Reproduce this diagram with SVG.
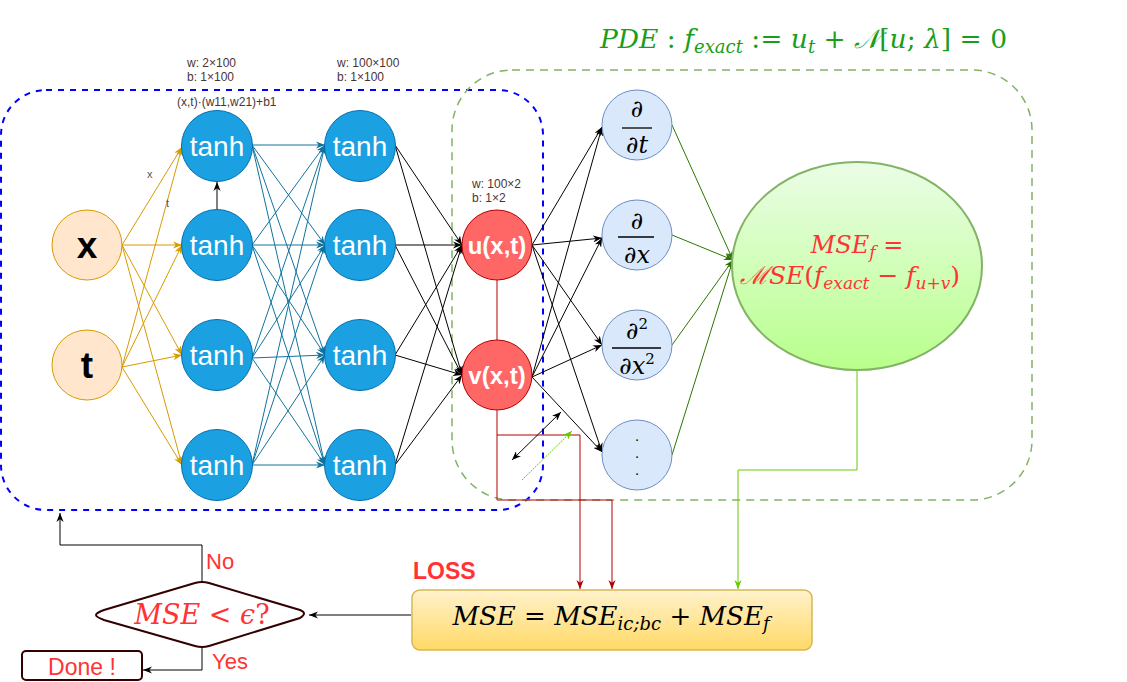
<svg xmlns="http://www.w3.org/2000/svg" width="1127" height="682" viewBox="0 0 1127 682">
<style>
.ln{fill:none;stroke-width:1}
.or{stroke:#d79b00}
.bl{stroke:#10739e}
.bk{stroke:#000000}
.dg{stroke:#2d7600}
.dr{stroke:#b20000}
.lg{stroke:#66cc00}
.tanh circle{fill:#1ba1e2;stroke:#006eaf;stroke-width:1}
.tanh text{fill:#ffffff;font-family:"Liberation Sans",Arial,sans-serif;font-size:28px;text-anchor:middle}
.inp circle{fill:#ffe6cc;stroke:#d79b00;stroke-width:1}
.inp text{fill:#000;font-family:"Liberation Sans",Arial,sans-serif;font-size:37px;font-weight:bold;text-anchor:middle}
.outn circle{fill:#ff6666;stroke:#b20000;stroke-width:1}
.outn text{fill:#fff;font-family:"Liberation Sans",Arial,sans-serif;font-size:24px;font-weight:bold;text-anchor:middle}
.der circle{fill:#dae8fc;stroke:#6c8ebf;stroke-width:1}
.math{font-family:"DejaVu Serif","Liberation Serif",serif}
.it{font-style:italic}
.ann{fill:#4d3333;font-family:"Liberation Sans",Arial,sans-serif;font-size:12px}
.lbl{font-family:"Liberation Sans",Arial,sans-serif}
</style>
<defs>
<marker id="aOr" viewBox="0 0 10 8" refX="10" refY="4" markerWidth="9" markerHeight="7.2" markerUnits="userSpaceOnUse" orient="auto"><path d="M0,0 L10,4 L0,8 L3,4 z" fill="#d79b00"/></marker>
<marker id="aBl" viewBox="0 0 10 8" refX="10" refY="4" markerWidth="9" markerHeight="7.2" markerUnits="userSpaceOnUse" orient="auto"><path d="M0,0 L10,4 L0,8 L3,4 z" fill="#10739e"/></marker>
<marker id="aBk" viewBox="0 0 10 8" refX="10" refY="4" markerWidth="9" markerHeight="7.2" markerUnits="userSpaceOnUse" orient="auto-start-reverse"><path d="M0,0 L10,4 L0,8 L3,4 z" fill="#000"/></marker>
<marker id="aDg" viewBox="0 0 10 8" refX="10" refY="4" markerWidth="9" markerHeight="7.2" markerUnits="userSpaceOnUse" orient="auto"><path d="M0,0 L10,4 L0,8 L3,4 z" fill="#2d7600"/></marker>
<marker id="aDr" viewBox="0 0 10 8" refX="10" refY="4" markerWidth="9" markerHeight="7.2" markerUnits="userSpaceOnUse" orient="auto"><path d="M0,0 L10,4 L0,8 L3,4 z" fill="#b20000"/></marker>
<marker id="aLg" viewBox="0 0 10 8" refX="10" refY="4" markerWidth="9" markerHeight="7.2" markerUnits="userSpaceOnUse" orient="auto"><path d="M0,0 L10,4 L0,8 L3,4 z" fill="#66cc00"/></marker>
<linearGradient id="gF" x1="0" y1="0" x2="0" y2="1"><stop offset="0" stop-color="#ebfde6"/><stop offset="1" stop-color="#b8ff8c"/></linearGradient>
<linearGradient id="gL" x1="0" y1="0" x2="0" y2="1"><stop offset="0" stop-color="#fff2cc"/><stop offset="1" stop-color="#ffd966"/></linearGradient>
</defs>
<rect width="1127" height="682" fill="#ffffff"/>

<g id="boxes">
<rect id="nnbox" x="1" y="90" width="542" height="420" rx="45" ry="45" fill="none" stroke="#0000ff" stroke-width="2" stroke-dasharray="6,6"/>
<rect id="pdebox" x="452" y="70" width="580" height="430" rx="60" ry="60" fill="none" stroke="#82b366" stroke-width="1.5" stroke-dasharray="8,6"/>
</g>

<g id="connectors">
<g class="ln or" marker-end="url(#aOr)">
<line x1="122" y1="245" x2="182" y2="147"/>
<line x1="122" y1="245" x2="182" y2="245"/>
<line x1="122" y1="245" x2="182" y2="355"/>
<line x1="122" y1="245" x2="182" y2="465"/>
<line x1="122" y1="367" x2="182" y2="147"/>
<line x1="122" y1="367" x2="182" y2="245"/>
<line x1="122" y1="367" x2="182" y2="355"/>
<line x1="122" y1="367" x2="182" y2="465"/>
</g>
<line class="ln bk" x1="217" y1="210" x2="217" y2="182" marker-end="url(#aBk)"/>
<g class="ln bl" marker-end="url(#aBl)">
<line x1="252" y1="145" x2="325" y2="145"/>
<line x1="252" y1="145" x2="325" y2="245"/>
<line x1="252" y1="145" x2="325" y2="355"/>
<line x1="252" y1="145" x2="325" y2="465"/>
<line x1="252" y1="245" x2="325" y2="145"/>
<line x1="252" y1="245" x2="325" y2="245"/>
<line x1="252" y1="245" x2="325" y2="355"/>
<line x1="252" y1="245" x2="325" y2="465"/>
<line x1="252" y1="358" x2="325" y2="145"/>
<line x1="252" y1="358" x2="325" y2="245"/>
<line x1="252" y1="358" x2="325" y2="355"/>
<line x1="252" y1="358" x2="325" y2="465"/>
<line x1="252" y1="465" x2="325" y2="145"/>
<line x1="252" y1="465" x2="325" y2="245"/>
<line x1="252" y1="465" x2="325" y2="355"/>
<line x1="252" y1="465" x2="325" y2="465"/>
</g>
<g class="ln bk" marker-end="url(#aBk)">
<line x1="395" y1="145" x2="462" y2="245"/>
<line x1="395" y1="145" x2="462" y2="375"/>
<line x1="395" y1="245" x2="462" y2="245"/>
<line x1="395" y1="245" x2="462" y2="375"/>
<line x1="395" y1="355" x2="462" y2="245"/>
<line x1="395" y1="355" x2="462" y2="375"/>
<line x1="395" y1="465" x2="462" y2="245"/>
<line x1="395" y1="465" x2="462" y2="375"/>
</g>
<g class="ln bk" marker-end="url(#aBk)">
<line x1="532" y1="245" x2="602" y2="127"/>
<line x1="532" y1="245" x2="602" y2="238"/>
<line x1="532" y1="245" x2="602" y2="345"/>
<line x1="532" y1="245" x2="602" y2="452"/>
<line x1="532" y1="377" x2="602" y2="127"/>
<line x1="532" y1="377" x2="602" y2="238"/>
<line x1="532" y1="377" x2="602" y2="345"/>
<line x1="532" y1="377" x2="602" y2="452"/>
</g>
<g class="ln dg" marker-end="url(#aDg)">
<line x1="672" y1="125" x2="733" y2="260"/>
<line x1="672" y1="235" x2="733" y2="260"/>
<line x1="672" y1="345" x2="733" y2="260"/>
<line x1="672" y1="455" x2="733" y2="260"/>
</g>
<line class="ln dr" x1="497" y1="280" x2="497" y2="340"/>
<polyline class="ln dr" points="497,410 497,435 580,435 580,589" marker-end="url(#aDr)"/>
<polyline class="ln dr" points="497,435 497,500 612,500 612,589" marker-end="url(#aDr)"/>
<polyline class="ln lg" points="857,370 857,470 738,470 738,589" marker-end="url(#aLg)"/>
<line class="ln bk" x1="512" y1="460" x2="561" y2="412" marker-start="url(#aBk)" marker-end="url(#aBk)"/>
<line class="ln lg" x1="522" y1="480" x2="572" y2="431" stroke-dasharray="2,1" marker-end="url(#aLg)"/>
<line class="ln bk" x1="411" y1="615" x2="309" y2="615" marker-end="url(#aBk)"/>
<polyline class="ln bk" points="202,582 202,545 60,545 60,513" marker-end="url(#aBk)"/>
<polyline class="ln bk" points="202,648 202,670 143,670" marker-end="url(#aBk)"/>
</g>

<g id="labels">
<text class="ann" x="187" y="67">w: 2×100</text>
<text class="ann" x="187" y="81">b: 1×100</text>
<text class="ann" x="177" y="106">(x,t)·(w11,w21)+b1</text>
<text class="ann" x="337" y="67">w: 100×100</text>
<text class="ann" x="337" y="81">b: 1×100</text>
<text class="ann" x="472" y="188">w: 100×2</text>
<text class="ann" x="472" y="202">b: 1×2</text>
<text x="147" y="178" font-family="Liberation Sans,Arial,sans-serif" font-size="11" fill="#555">x</text>
<text x="166" y="207" font-family="Liberation Sans,Arial,sans-serif" font-size="11" fill="#555">t</text>
<text class="math" x="600" y="48" font-size="26.5" fill="#1a9e1a"><tspan class="it">PDE</tspan> : <tspan class="it">f</tspan><tspan class="it" font-size="18" dy="5">exact</tspan><tspan dy="-5"> := </tspan><tspan class="it">u</tspan><tspan class="it" font-size="18" dy="5">t</tspan><tspan dy="-5"> + </tspan><tspan class="it">𝒩</tspan>[<tspan class="it">u</tspan>; <tspan class="it">λ</tspan>] = 0</text>
<text class="lbl" x="413" y="579" font-size="23" font-weight="bold" fill="#ff3333">LOSS</text>
<text class="lbl" x="206" y="569" font-size="22" fill="#ff3333">No</text>
<text class="lbl" x="212" y="669" font-size="22" fill="#ff3333">Yes</text>
</g>

<g id="input-x" class="inp"><circle cx="87" cy="245" r="35"/><text x="87" y="258">x</text></g>
<g id="input-t" class="inp"><circle cx="87" cy="365" r="35"/><text x="87" y="378">t</text></g>

<g id="h1-1" class="tanh"><circle cx="217" cy="146" r="35.5"/><text x="217" y="156">tanh</text></g>
<g id="h1-2" class="tanh"><circle cx="217" cy="245" r="35.5"/><text x="217" y="255">tanh</text></g>
<g id="h1-3" class="tanh"><circle cx="217" cy="355" r="35.5"/><text x="217" y="365">tanh</text></g>
<g id="h1-4" class="tanh"><circle cx="217" cy="465" r="35.5"/><text x="217" y="475">tanh</text></g>
<g id="h2-1" class="tanh"><circle cx="360" cy="146" r="35.5"/><text x="360" y="156">tanh</text></g>
<g id="h2-2" class="tanh"><circle cx="360" cy="245" r="35.5"/><text x="360" y="255">tanh</text></g>
<g id="h2-3" class="tanh"><circle cx="360" cy="355" r="35.5"/><text x="360" y="365">tanh</text></g>
<g id="h2-4" class="tanh"><circle cx="360" cy="465" r="35.5"/><text x="360" y="475">tanh</text></g>

<g id="out-u" class="outn"><circle cx="497" cy="245" r="35"/><text x="497" y="254">u(x,t)</text></g>
<g id="out-v" class="outn"><circle cx="497" cy="375" r="35"/><text x="497" y="384">v(x,t)</text></g>

<g id="d-t" class="der"><circle cx="637" cy="125" r="35"/>
<text class="math" x="637" y="117" font-size="24" text-anchor="middle">∂</text>
<line x1="622" y1="128" x2="652" y2="128" stroke="#000" stroke-width="1.3"/>
<text class="math" x="637" y="153" font-size="24" text-anchor="middle">∂<tspan class="it">t</tspan></text></g>
<g id="d-x" class="der"><circle cx="637" cy="235" r="35"/>
<text class="math" x="637" y="229" font-size="24" text-anchor="middle">∂</text>
<line x1="618" y1="237" x2="654" y2="237" stroke="#000" stroke-width="1.3"/>
<text class="math" x="637" y="263" font-size="24" text-anchor="middle">∂<tspan class="it">x</tspan></text></g>
<g id="d-xx" class="der"><circle cx="637" cy="345" r="35"/>
<text class="math" x="637" y="339" font-size="24" text-anchor="middle">∂<tspan font-size="15" dy="-10">2</tspan></text>
<line x1="612" y1="348" x2="661" y2="348" stroke="#000" stroke-width="1.3"/>
<text class="math" x="637" y="374" font-size="24" text-anchor="middle">∂<tspan class="it">x</tspan><tspan font-size="15" dy="-10">2</tspan></text></g>
<g id="d-more" class="der"><circle cx="637" cy="455" r="35"/>
<text class="math" font-size="13" text-anchor="middle"><tspan x="637" y="441">.</tspan><tspan x="637" y="458">.</tspan><tspan x="637" y="475">.</tspan></text></g>

<g id="mse-f"><ellipse cx="857" cy="266" rx="125" ry="104" fill="url(#gF)" stroke="#82b366" stroke-width="2"/>
<text class="math" x="857" y="253" font-size="24" fill="#ff3333" text-anchor="middle"><tspan class="it">MSE</tspan><tspan class="it" font-size="17" dy="5">f</tspan><tspan dy="-5"> =</tspan></text>
<text class="math" x="850" y="284" font-size="25" fill="#ff3333" text-anchor="middle"><tspan class="it">ℳSE</tspan>(<tspan class="it">f</tspan><tspan class="it" font-size="17" dy="5">exact</tspan><tspan dy="-5"> − </tspan><tspan class="it">f</tspan><tspan class="it" font-size="17" dy="5">u+v</tspan><tspan dy="-5">)</tspan></text></g>

<g id="loss"><rect x="412" y="590" width="400" height="60" rx="8" ry="8" fill="url(#gL)" stroke="#d6b656" stroke-width="1.5"/>
<text class="math" x="611" y="625" font-size="26" text-anchor="middle"><tspan class="it">MSE</tspan> = <tspan class="it">MSE</tspan><tspan class="it" font-size="18" dy="5">ic;bc</tspan><tspan dy="-5"> + </tspan><tspan class="it">MSE</tspan><tspan class="it" font-size="18" dy="5">f</tspan></text></g>

<g id="decision"><path d="M96,615 Q96,613 104,610 L195,583 Q202,581 209,583 L300,610 Q308,613 300,618 L209,646 Q202,648 195,646 L104,620 Q96,617 96,615 z" fill="#ffffff" stroke="#330000" stroke-width="2"/>
<text class="math" x="202" y="624" font-size="27" fill="#ff3333" text-anchor="middle"><tspan class="it">MSE</tspan> &lt; <tspan class="it">ϵ</tspan>?</text></g>

<g id="done"><rect x="22" y="651" width="120" height="29" rx="4" ry="4" fill="#ffffff" stroke="#330000" stroke-width="2"/>
<text class="lbl" x="82" y="675" font-size="23" fill="#ff3333" text-anchor="middle">Done !</text></g>
</svg>
